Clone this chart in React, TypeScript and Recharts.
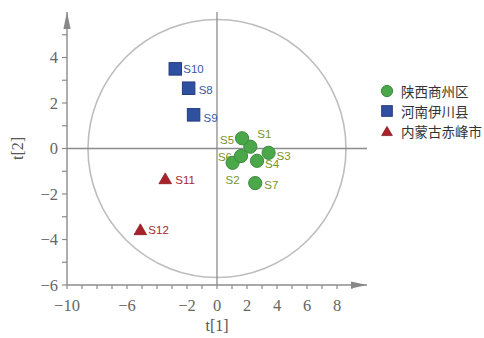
import React from 'react';
import {
  ScatterChart,
  Scatter,
  XAxis,
  YAxis,
  ReferenceLine,
  ReferenceArea,
  ReferenceDot,
  Legend,
} from 'recharts';

// Score values t[1] / t[2] per sample, by origin
const shangzhouNames = ['S1', 'S2', 'S3', 'S4', 'S5', 'S6', 'S7'];
const shangzhouT1 = [2.22, 1.04, 3.44, 2.67, 1.67, 1.6, 2.55];
const shangzhouT2 = [0.08, -0.63, -0.19, -0.54, 0.45, -0.33, -1.52];

const yichuanNames = ['S8', 'S9', 'S10'];
const yichuanT1 = [-1.89, -1.56, -2.78];
const yichuanT2 = [2.65, 1.48, 3.5];

const chifengNames = ['S11', 'S12'];
const chifengT1 = [-3.45, -5.11];
const chifengT2 = [-1.31, -3.55];

const groupNames = ['陕西商州区', '河南伊川县', '内蒙古赤峰市'];

// Axis ticks (every unit) and the subset that carries a label
const xTicks = [-10, -9, -8, -7, -6, -5, -4, -3, -2, -1, 0, 1, 2, 3, 4, 5, 6, 7, 8, 9];
const xTickLabels = [-10, -6, -2, 0, 2, 4, 6, 8];
const yTicks = [-6, -5, -4, -3, -2, -1, 0, 1, 2, 3, 4, 5];
const yTickLabels = [-6, -4, -2, 0, 2, 4];
const t1Domain = [-10, 10];
const t2Domain = [-6, 6];

// Hotelling T2 ellipse half-axes
const ellipseT1 = 8.6;
const ellipseT2 = 5.67;

type Pt = { name: string; x: number; y: number; group: number };

const build = (names: string[], xs: number[], ys: number[], group: number): Pt[] =>
  names.map((name, i) => ({ name, x: xs[i], y: ys[i], group }));

const shangzhou = build(shangzhouNames, shangzhouT1, shangzhouT2, 0);
const yichuan = build(yichuanNames, yichuanT1, yichuanT2, 1);
const chifeng = build(chifengNames, chifengT1, chifengT2, 2);
const allPoints = [...shangzhou, ...yichuan, ...chifeng];

const markerFill = ['#4aa84a', '#2f4f9f', '#a8222c'];
const markerStroke = ['#3a8a3a', '#223c80', '#8a1a22'];
const labelColor = ['#77952c', '#3a58a8', '#a3292f'];

// Where each sample name sits relative to its marker
const labelPlacement: Record<string, { dx: number; dy: number; anchor: 'start' | 'end' | 'middle' }> = {
  S1: { dx: 7, dy: -13, anchor: 'start' },
  S2: { dx: 0, dy: 17, anchor: 'middle' },
  S3: { dx: 8, dy: 3, anchor: 'start' },
  S4: { dx: 8, dy: 3, anchor: 'start' },
  S5: { dx: -8, dy: 2, anchor: 'end' },
  S6: { dx: -9, dy: 1, anchor: 'end' },
  S7: { dx: 9, dy: 2, anchor: 'start' },
  S8: { dx: 10, dy: 2, anchor: 'start' },
  S9: { dx: 10, dy: 3, anchor: 'start' },
  S10: { dx: 8, dy: 0, anchor: 'start' },
  S11: { dx: 10, dy: 2, anchor: 'start' },
  S12: { dx: 8, dy: 1, anchor: 'start' },
};

const AXIS = '#8c8c8c';
const TICK_FONT = "'Liberation Serif', 'Times New Roman', serif";

const fmt = (v: number) => (v < 0 ? `\u2212${Math.abs(v)}` : `${v}`);

const Marker = ({ group, cx, cy, scale = 1 }: { group: number; cx: number; cy: number; scale?: number }) => {
  const fill = markerFill[group];
  const stroke = markerStroke[group];
  if (group === 0) {
    return <circle cx={cx} cy={cy} r={6.6 * scale} fill={fill} stroke={stroke} strokeWidth={1} />;
  }
  if (group === 1) {
    const s = 12.5 * scale;
    return <rect x={cx - s / 2} y={cy - s / 2} width={s} height={s} fill={fill} stroke={stroke} strokeWidth={1} />;
  }
  const w = 12.6 * scale;
  const h = 10.8 * scale;
  return (
    <polygon
      points={`${cx},${cy - h / 2} ${cx + w / 2},${cy + h / 2} ${cx - w / 2},${cy + h / 2}`}
      fill={fill}
      stroke={stroke}
      strokeWidth={0.8}
    />
  );
};

const markerShape = (props: any) => <Marker group={props.payload.group} cx={props.cx} cy={props.cy} />;

const labelShape = (props: any) => {
  const p = props.payload as Pt;
  const place = labelPlacement[p.name];
  return (
    <text
      x={props.cx + place.dx}
      y={props.cy + place.dy}
      textAnchor={place.anchor}
      dominantBaseline="central"
      fontFamily="'Liberation Sans', Arial, sans-serif"
      fontSize={11.5}
      fill={labelColor[p.group]}
    >
      {p.name}
    </text>
  );
};

const XTick = (props: any) => {
  const v = props.payload.value;
  if (!xTickLabels.includes(v)) return null;
  return (
    <text x={props.x} y={props.y + 14} textAnchor="middle" dominantBaseline="central" fontFamily={TICK_FONT} fontSize={16.5} fill="#666">
      {fmt(v)}
    </text>
  );
};

const YTick = (props: any) => {
  const v = props.payload.value;
  if (!yTickLabels.includes(v)) return null;
  return (
    <text x={props.x - 2} y={props.y} textAnchor="end" dominantBaseline="central" fontFamily={TICK_FONT} fontSize={16.5} fill="#666">
      {fmt(v)}
    </text>
  );
};

const XTitle = (props: any) => {
  const vb = props.viewBox;
  return (
    <text x={vb.x + vb.width / 2} y={vb.y + 40} textAnchor="middle" dominantBaseline="central" fontFamily={TICK_FONT} fontSize={16} fill="#555">
      t[1]
    </text>
  );
};

const YTitle = (props: any) => {
  const vb = props.viewBox;
  const cx = vb.x - 10;
  const cy = vb.y + vb.height / 2;
  return (
    <text x={cx} y={cy} transform={`rotate(-90 ${cx} ${cy})`} textAnchor="middle" dominantBaseline="central" fontFamily={TICK_FONT} fontSize={16} fill="#555">
      t[2]
    </text>
  );
};

const ellipseShape = (p: any) => (
  <ellipse
    cx={p.x + p.width / 2}
    cy={p.y + p.height / 2}
    rx={Math.abs(p.width) / 2}
    ry={Math.abs(p.height) / 2}
    fill="none"
    stroke="#bdbdbd"
    strokeWidth={1.6}
  />
);

const arrowRight = (p: any) => (
  <polygon points={`${p.cx},${p.cy} ${p.cx - 16},${p.cy - 3.6} ${p.cx - 16},${p.cy + 3.6}`} fill="#888" />
);

const arrowUp = (p: any) => (
  <polygon points={`${p.cx},${p.cy} ${p.cx - 3.6},${p.cy + 17} ${p.cx + 3.6},${p.cy + 17}`} fill="#888" />
);

const LegendBox = () => (
  <div style={{ display: 'flex', flexDirection: 'column' }}>
    {groupNames.map((name, i) => (
      <div key={name} style={{ display: 'flex', alignItems: 'center', height: 20 }}>
        <svg width={16} height={16} style={{ display: 'block' }}>
          <Marker group={i} cx={8} cy={8} scale={0.85} />
        </svg>
        <span
          style={{
            marginLeft: 6,
            fontFamily: "'Noto Sans CJK SC', sans-serif",
            fontSize: 13.5,
            color: '#333',
            lineHeight: '20px',
            whiteSpace: 'nowrap',
          }}
        >
          {name}
        </span>
      </div>
    ))}
  </div>
);

export default function App() {
  return (
    <div style={{ position: 'absolute', left: 0, top: 0 }}>
      <ScatterChart width={484} height={338} margin={{ top: 12, right: 117, bottom: 13, left: 27 }}>
        <XAxis
          type="number"
          dataKey="x"
          domain={t1Domain}
          ticks={xTicks}
          interval={0}
          height={40}
          allowDataOverflow
          axisLine={{ stroke: AXIS, strokeWidth: 1.4 }}
          tickLine={{ stroke: AXIS, strokeWidth: 1.2 }}
          tickSize={4}
          tickMargin={2}
          tick={<XTick />}
          label={<XTitle />}
        />
        <YAxis
          type="number"
          dataKey="y"
          domain={t2Domain}
          ticks={yTicks}
          interval={0}
          width={40}
          allowDataOverflow
          axisLine={{ stroke: AXIS, strokeWidth: 1.4 }}
          tickLine={{ stroke: AXIS, strokeWidth: 1.2 }}
          tickSize={5}
          tickMargin={2}
          tick={<YTick />}
          label={<YTitle />}
        />
        <ReferenceArea
          x1={-ellipseT1}
          x2={ellipseT1}
          y1={-ellipseT2}
          y2={ellipseT2}
          ifOverflow="visible"
          shape={ellipseShape}
        />
        <ReferenceLine x={0} stroke={AXIS} strokeWidth={1.3} />
        <ReferenceLine y={0} stroke={AXIS} strokeWidth={1.3} />
        <Scatter data={allPoints} shape={labelShape} isAnimationActive={false} legendType="none" />
        <Scatter name={groupNames[0]} data={shangzhou} shape={markerShape} isAnimationActive={false} />
        <Scatter name={groupNames[1]} data={yichuan} shape={markerShape} isAnimationActive={false} />
        <Scatter name={groupNames[2]} data={chifeng} shape={markerShape} isAnimationActive={false} />
        <ReferenceDot x={t1Domain[1]} y={t2Domain[0]} ifOverflow="visible" shape={arrowRight} />
        <ReferenceDot x={t1Domain[0]} y={t2Domain[1]} ifOverflow="visible" shape={arrowUp} />
        <Legend
          layout="vertical"
          align="center"
          verticalAlign="middle"
          content={<LegendBox />}
          wrapperStyle={{ left: 379, top: 81, width: 'auto' }}
        />
      </ScatterChart>
    </div>
  );
}
